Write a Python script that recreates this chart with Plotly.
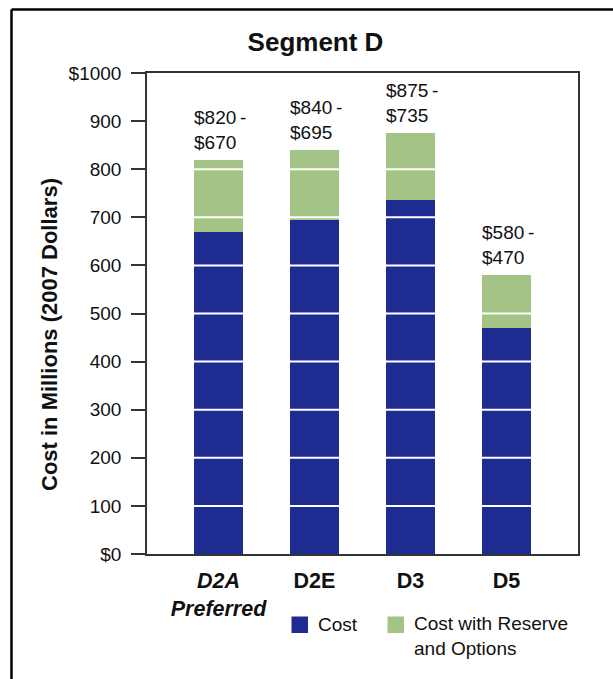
import plotly.graph_objects as go

# --- data -------------------------------------------------------------
alternatives = ["D2A<br>Preferred", "D2E", "D3", "D5"]
cost_low = [670, 695, 735, 470]        # Cost
cost_high = [820, 840, 875, 580]       # Cost with Reserve and Options
y_tick_vals = [0, 100, 200, 300, 400, 500, 600, 700, 800, 900, 1000]
y_tick_text = ["$0", "100", "200", "300", "400", "500", "600", "700", "800", "900", "$1000"]

BLUE = "#1e2c91"
GREEN = "#a3c486"
FONT = "Arial, Liberation Sans, sans-serif"

W, H = 613, 679
L, R, T, B = 147, 35, 73, 125
PW, PH = W - L - R, H - T - B


def px_x(p):
    """pixel x -> paper x"""
    return (p - L) / PW


def px_y(p):
    """pixel y -> paper y"""
    return (H - B - p) / PH


xs = list(range(len(alternatives)))
reserve = [h - l for h, l in zip(cost_high, cost_low)]
bar_w = 0.51

fig = go.Figure()
fig.add_trace(go.Bar(x=xs, y=cost_low, width=bar_w, marker=dict(color=BLUE, line=dict(width=0)),
                     name="Cost", showlegend=False))
fig.add_trace(go.Bar(x=xs, y=reserve, width=bar_w, marker=dict(color=GREEN, line=dict(width=0)),
                     name="Cost with Reserve and Options", showlegend=False))

# white grid lines drawn over the bars
shapes = []
for v in y_tick_vals[1:-1]:
    shapes.append(dict(type="line", xref="x", yref="y", x0=-0.6, x1=3.6, y0=v, y1=v,
                       line=dict(color="white", width=2), layer="above"))

# outer frame (left and top edges)
shapes.append(dict(type="line", xref="paper", yref="paper", x0=px_x(11.5), x1=px_x(11.5),
                   y0=px_y(H + 5), y1=px_y(9.5), line=dict(color="black", width=2.5)))
shapes.append(dict(type="line", xref="paper", yref="paper", x0=px_x(11.5), x1=px_x(W + 5),
                   y0=px_y(9.5), y1=px_y(9.5), line=dict(color="black", width=2.5)))

# legend swatches
for x0, col in [(291.5, BLUE), (387.5, GREEN)]:
    shapes.append(dict(type="rect", xref="paper", yref="paper", x0=px_x(x0), x1=px_x(x0 + 16.5),
                       y0=px_y(616.5), y1=px_y(633), fillcolor=col, line=dict(width=0)))

annotations = []
# range labels above each bar
for i, (hi, lo) in enumerate(zip(cost_high, cost_low)):
    annotations.append(dict(x=i - bar_w / 2, y=hi, xref="x", yref="y", xanchor="left", yanchor="bottom",
                            xshift=-2, yshift=5, showarrow=False, align="left",
                            text=f"${hi}\u2009-<br>${lo}", font=dict(size=19, color="#111", family=FONT)))

# y-axis title
annotations.append(dict(x=px_x(50), y=px_y(335), xref="paper", yref="paper", showarrow=False,
                        textangle=-90, xanchor="center", yanchor="middle",
                        text="<b>Cost in Millions (2007 Dollars)</b>",
                        font=dict(size=22, color="#111", family=FONT)))

# legend text
annotations.append(dict(x=px_x(316), y=px_y(624.5), xref="paper", yref="paper", showarrow=False,
                        xanchor="left", yanchor="middle", text="Cost",
                        font=dict(size=19, color="#111", family=FONT)))
annotations.append(dict(x=px_x(412), y=px_y(611), xref="paper", yref="paper", showarrow=False,
                        xanchor="left", yanchor="top", align="left",
                        text="Cost with Reserve<br>and Options",
                        font=dict(size=19, color="#111", family=FONT)))

tick_text_x = []
for i, a in enumerate(alternatives):
    if i == 0:
        tick_text_x.append("<br>".join(f"<b><i>{p}</i></b>" for p in a.split("<br>")))
    else:
        tick_text_x.append(f"<b>{a}</b>")

fig.update_layout(
    width=W, height=H,
    margin=dict(l=L, r=R, t=T, b=B, pad=0),
    paper_bgcolor="white", plot_bgcolor="white",
    barmode="stack", bargap=0,
    showlegend=False,
    font=dict(family=FONT, color="#111"),
    title=dict(text="<b>Segment D</b>", x=315.5 / W, xref="container", xanchor="center",
               y=1 - 42 / H, yref="container", yanchor="middle",
               font=dict(size=26, color="#111", family=FONT)),
    shapes=shapes,
    annotations=annotations,
    xaxis=dict(range=[-0.745, 3.745], tickvals=xs, ticktext=tick_text_x, showgrid=False,
               zeroline=False, showline=True, linecolor="#333", linewidth=1.5, mirror=True,
               ticks="", ticklabelstandoff=6, tickfont=dict(size=21.5, color="#111", family=FONT),
               fixedrange=True),
    yaxis=dict(range=[0, 1000], tickvals=y_tick_vals, ticktext=y_tick_text, showgrid=False,
               zeroline=False, showline=True, linecolor="#333", linewidth=1.5, mirror=True,
               ticks="outside", ticklen=14, tickwidth=1.5, tickcolor="#333",
               ticklabelstandoff=6, tickfont=dict(size=19, color="#111", family=FONT),
               fixedrange=True),
)

fig.write_html("out.html")
